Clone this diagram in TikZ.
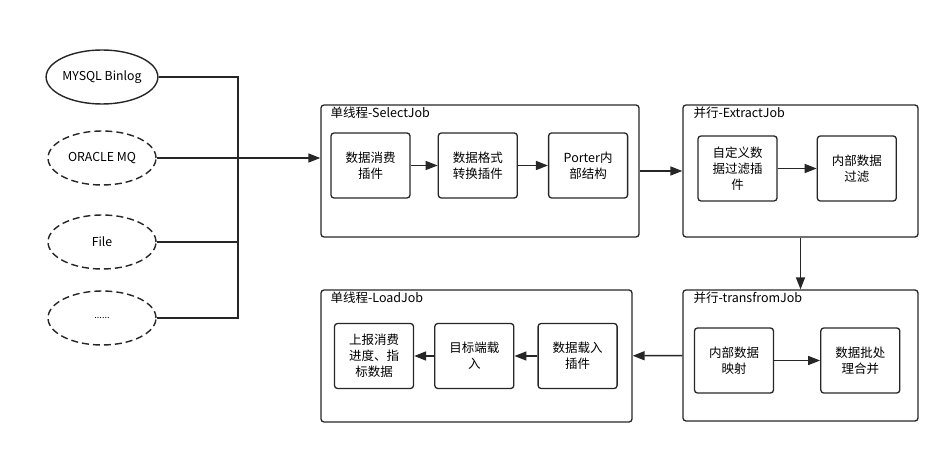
\documentclass[tikz,border=0pt]{standalone}
\usepackage{fontspec}
\setmainfont{Noto Sans CJK SC}
\usetikzlibrary{shapes.geometric, positioning, arrows.meta}
\tikzset{
	source/.style={
		ellipse,
		draw=black!85,
		line width=1.4pt,
		minimum width=108pt,
		minimum height=54pt,
		inner sep=0pt,
		font=\fontsize{12.3}{14}\selectfont
	},
	sourceDashed/.style={
		source,
		dash pattern=on 7pt off 4pt
	},
	stage/.style={
		draw=black!85,
		line width=1.3pt,
		rounded corners=3pt,
		inner sep=0pt
	},
	plugin/.style={
		draw=black!85,
		line width=1.3pt,
		rounded corners=3pt,
		minimum width=79pt,
		minimum height=65pt,
		inner sep=0pt,
		align=center,
		font=\fontsize{12.5}{16}\selectfont
	},
	title/.style={
		anchor=west,
		inner sep=0pt,
		font=\fontsize{12.5}{15}\selectfont
	},
	wire/.style={
		draw=black!85,
		line width=1.5pt
	},
	flow/.style={
		wire,
		-{Triangle[length=12pt, width=9pt]}
	},
}
\begin{document}
\begin{tikzpicture}[x=1pt, y=-1pt]
	\useasboundingbox (0,0) rectangle (950,454);
	% sources
	\node [source] (mysql) at (102,77) {MYSQL Binlog};
	\node [sourceDashed] (oracle) at (102,158) {ORACLE MQ};
	\node [sourceDashed] (file) at (102,242) {File};
	\node [sourceDashed, font=\fontsize{9}{10}\selectfont] (more) at (102,318) {......};

	% single thread select job
	\node [stage, minimum width=318pt, minimum height=132pt] (selectJob) at (480,171) {};
	\node [title] at ([shift={(10pt,-8pt)}]selectJob.north west) {单线程-SelectJob};
	\node [plugin] (consume) at (370.5,165.5) {数据消费\\插件};
	\node [plugin, right=27pt of consume] (convert) {数据格式\\转换插件};
	\node [plugin, right=30pt of convert] (porter) {Porter内\\部结构};

	% parallel extract job
	\node [stage, minimum width=235pt, minimum height=132pt] (extractJob) at (800.5,171) {};
	\node [title] at ([shift={(11pt,-8pt)}]extractJob.north west) {并行-ExtractJob};
	\node [plugin] (customFilter) at (737.5,168.5) {自定义数\\据过滤插\\件};
	\node [plugin, right=39pt of customFilter] (innerFilter) {内部数据\\过滤};

	% parallel transform job
	\node [stage, minimum width=235pt, minimum height=131pt] (transformJob) at (800.5,355.5) {};
	\node [title] at ([shift={(11pt,-8pt)}]transformJob.north west) {并行-transfromJob};
	\node [plugin] (mapping) at (734,360.5) {内部数据\\映射};
	\node [plugin, right=46pt of mapping] (merge) {数据批处\\理合并};

	% single thread load job
	\node [stage, minimum width=311pt, minimum height=132pt] (loadJob) at (476.5,356) {};
	\node [title] at ([shift={(10pt,-8pt)}]loadJob.north west) {单线程-LoadJob};
	\node [plugin] (report) at (374,356) {上报消费\\进度、指\\标数据};
	\node [plugin, right=20pt of report] (target) {目标端载\\入};
	\node [plugin, right=23pt of target] (loadPlugin) {数据载入\\插件};

	% sources to select job
	\coordinate (busTop) at (238,77);
	\coordinate (busBottom) at (238,318);
	\draw [wire] (mysql.east) -- (busTop) -- (busBottom) -- (more.east);
	\draw [wire] (file.east) -- (file.east -| busTop);
	\draw [flow] (oracle.east) -- (oracle.east -| selectJob.west);

	% inside the jobs
	\draw [flow] (consume) -- (convert);
	\draw [flow] (convert) -- (porter);
	\draw [flow] (customFilter) -- (innerFilter);
	\draw [flow] (mapping) -- (merge);
	\draw [flow] (loadPlugin) -- (target);
	\draw [flow] (target) -- (report);

	% job to job
	\draw [flow] (selectJob) -- (extractJob);
	\draw [flow] (extractJob) -- (transformJob);
	\draw [flow] (transformJob) -- (loadJob);
\end{tikzpicture}
\end{document}
